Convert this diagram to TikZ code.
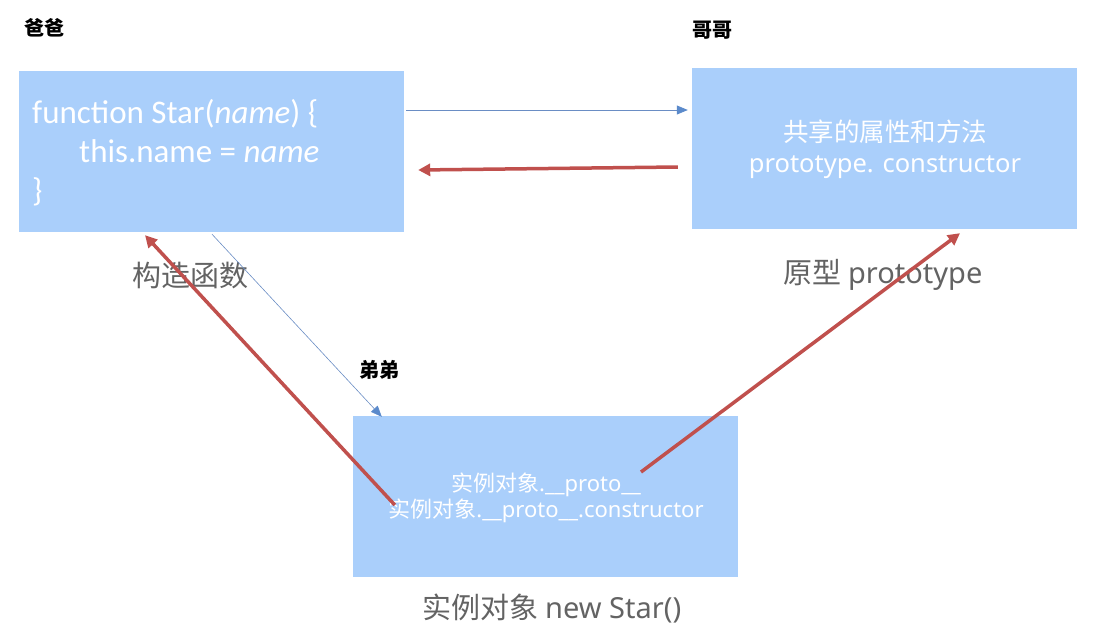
\documentclass[tikz,border=0pt]{standalone}
\usepackage{fontspec}
\setmainfont{Carlito}
\newfontfamily\cjk{Noto Sans CJK SC}
\newfontfamily\lat{Noto Sans}
\usetikzlibrary{calc,arrows.meta}
\definecolor{boxblue}{HTML}{AACFFB}
\definecolor{lineblue}{HTML}{6A8DC4}
\definecolor{tipblue}{HTML}{5B8ACB}
\definecolor{arrred}{HTML}{C0504D}
\definecolor{labgray}{HTML}{636363}
\tikzset{
  box/.style={fill=boxblue, draw=none, inner sep=0pt, minimum width=385pt, minimum height=161pt},
  role/.style={font=\cjk\bfseries\fontsize{20}{22}\selectfont, text=black, inner sep=0pt},
  caption/.style={font=\cjk\fontsize{29}{32}\selectfont, text=labgray, inner sep=0pt},
  code/.style={font=\fontsize{33}{36}\selectfont, text=white, inner sep=0pt, anchor=base west},
  thinarr/.style={draw=lineblue, line width=0.8pt, -{Triangle[length=11pt,width=9pt,color=tipblue]}},
  redarr/.style={draw=arrred, line width=3.5pt, -{Triangle[length=12pt,width=12pt]}}
}
\begin{document}
\begin{tikzpicture}[x=1pt,y=-1pt]
\useasboundingbox (0,0) rectangle (1096,635);
% boxes
\node[box] (dad) at (211.5,151.5) {};
\node[box] (bro) at (884.5,148.5) {};
\node[box] (kid) at (545.5,496.5) {};
% dad code
\node[code] (c1) at (32,123) {function Star(\textit{name}) \{};
\node[code] (c2) at (79,162) {this.name = \textit{name}};
\node[code] (c3) at (32,201) {\}};
% bro text
\node[font=\cjk\fontsize{25.5}{31}\selectfont, text=white, align=center, inner sep=0pt] (bt) at (885,149) {共享的属性和方法\\{\lat prototype. constructor}};
% kid text
\node[font=\cjk\fontsize{22}{26}\selectfont, text=white, align=center, inner sep=0pt] (kt) at (546,498) {实例对象{\lat.\_\_proto\_\_}\\实例对象{\lat.\_\_proto\_\_.constructor}};
% role labels
\node[role] (l1) at (44,28) {爸爸};
\node[role] (l2) at (712,30) {哥哥};
\node[role] (l3) at (379,370) {弟弟};
% captions
\node[caption] (k1) at (190,276) {构造函数};
\node[caption] (k2) at (883,275) {原型 {\lat prototype}};
\node[caption] (k3) at (552,609) {实例对象 {\lat new Star()}};
% connectors
\draw[thinarr] ($(dad.east)+(2,-41.5)$) -- ($(bro.west)+(-4,-38.5)$);
\draw[redarr] ($(bro.west)+(-14,18.5)$) -- ($(dad.east)+(14,18.5)$);
\draw[thinarr, line width=0.6pt] ($(dad.south)+(0.5,2)$) -- ($(kid.north west)+(29,1)$);
\draw[redarr] ($(kid.west)+(42,8.5)$) -- ($(dad.south)+(-66.5,3)$);
\draw[redarr] ($(kid.center)+(95.5,-24.5)$) -- ($(bro.south)+(75.5,4)$);
\end{tikzpicture}
\end{document}
